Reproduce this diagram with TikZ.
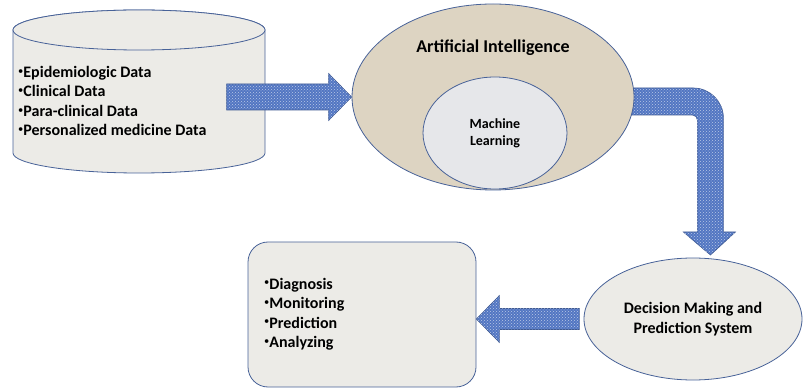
\documentclass[tikz,border=0pt]{standalone}
\usepackage{fontspec}
\setmainfont{Carlito}
\usepackage{tikz}
\usetikzlibrary{backgrounds,calc,patterns,positioning,shapes}
\definecolor{sand}{RGB}{221,212,194}
\definecolor{paper}{RGB}{236,235,231}
\definecolor{marble}{RGB}{230,231,234}
\definecolor{edgeblue}{RGB}{72,98,152}
\definecolor{arrowblue}{RGB}{82,118,194}
\newcommand{\lbul}{\raisebox{0.4ex}{\mdseries\fontsize{10.5}{10}\selectfont•}}

\begin{document}
\begin{tikzpicture}[x=1pt,y=1pt]
    \tikzstyle{shapeline}=[draw=edgeblue,line width=0.8pt] %
    \tikzstyle{ellnode}=[ellipse,shapeline,inner sep=0pt] %
    \tikzstyle{blockarrow}=[draw=arrowblue!75!black,line width=0.6pt,%
    fill=arrowblue,postaction={pattern=crosshatch dots,%
    pattern color=arrowblue!40!white}] %
    \tikzstyle{listtext}=[align=left,inner sep=0pt,%
    font=\bfseries\fontsize{16}{19.5}\selectfont] %

    \useasboundingbox (0,0) rectangle (806,391);

    % data store
    \path[shapeline,fill=paper] (13,361) -- (13,238)
      arc[start angle=180,end angle=360,x radius=126,y radius=20]
      -- (265,361)
      arc[start angle=0,end angle=180,x radius=126,y radius=20] -- cycle;
    \draw[shapeline,fill=paper] (139,361) ellipse[x radius=126,y radius=20];
    \node[listtext,anchor=west] (db) at (18,290)
      {\lbul Epidemiologic Data\\\lbul Clinical Data\\%
       \lbul Para-clinical Data\\\lbul Personalized medicine Data};

    \node[ellnode,fill=sand,minimum width=282,minimum height=186] (ai)
      at (493,294) {};
    \node[font=\bfseries\fontsize{18}{21}\selectfont] (aititle)
      at ($(ai.north)+(0,-44)$) {Artificial Intelligence};
    \node[ellnode,fill=marble,minimum width=144,minimum height=112,%
      align=center,font=\bfseries\fontsize{14}{17}\selectfont] (ml)
      at (495,258) {Machine\\Learning};

    \node[ellnode,fill=paper,minimum width=218,minimum height=122,%
      align=center,font=\bfseries\fontsize{16}{20}\selectfont] (dec)
      at (693,72) {Decision Making and\\Prediction System};

    \node[shapeline,fill=paper,rounded corners=20,minimum width=228,%
      minimum height=145] (out) at (362,76.5) {};
    \node[listtext,anchor=west] (outlist) at (264,77)
      {\lbul Diagnosis\\\lbul Monitoring\\\lbul Prediction\\\lbul Analyzing};

    \path[blockarrow] (ai.west) -- ++(-23,23.5) -- ++(0,-10.5)
      -- ++(-102,0) -- ++(0,-26) -- ++(102,0) -- ++(0,-10.5) -- cycle;

    \begin{pgfonlayer}{background}
      \path[blockarrow] ($(ai.east)+(-14,9)$) -- ++(73,0)
        arc[start angle=90,end angle=0,radius=30] -- ++(0,-114)
        -- ++(12,0) -- ++(-25,-23) -- ++(-27,23) -- ++(14,0)
        -- ++(0,112) arc[start angle=0,end angle=90,radius=5]
        -- ++(-72,0) -- cycle;
    \end{pgfonlayer}

    \path[blockarrow] (out.east |- dec.west) -- ++(23,23.5) -- ++(0,-13)
      -- ++(80,0) -- ++(0,-21) -- ++(-80,0) -- ++(0,-13) -- cycle;
\end{tikzpicture}
\end{document}
